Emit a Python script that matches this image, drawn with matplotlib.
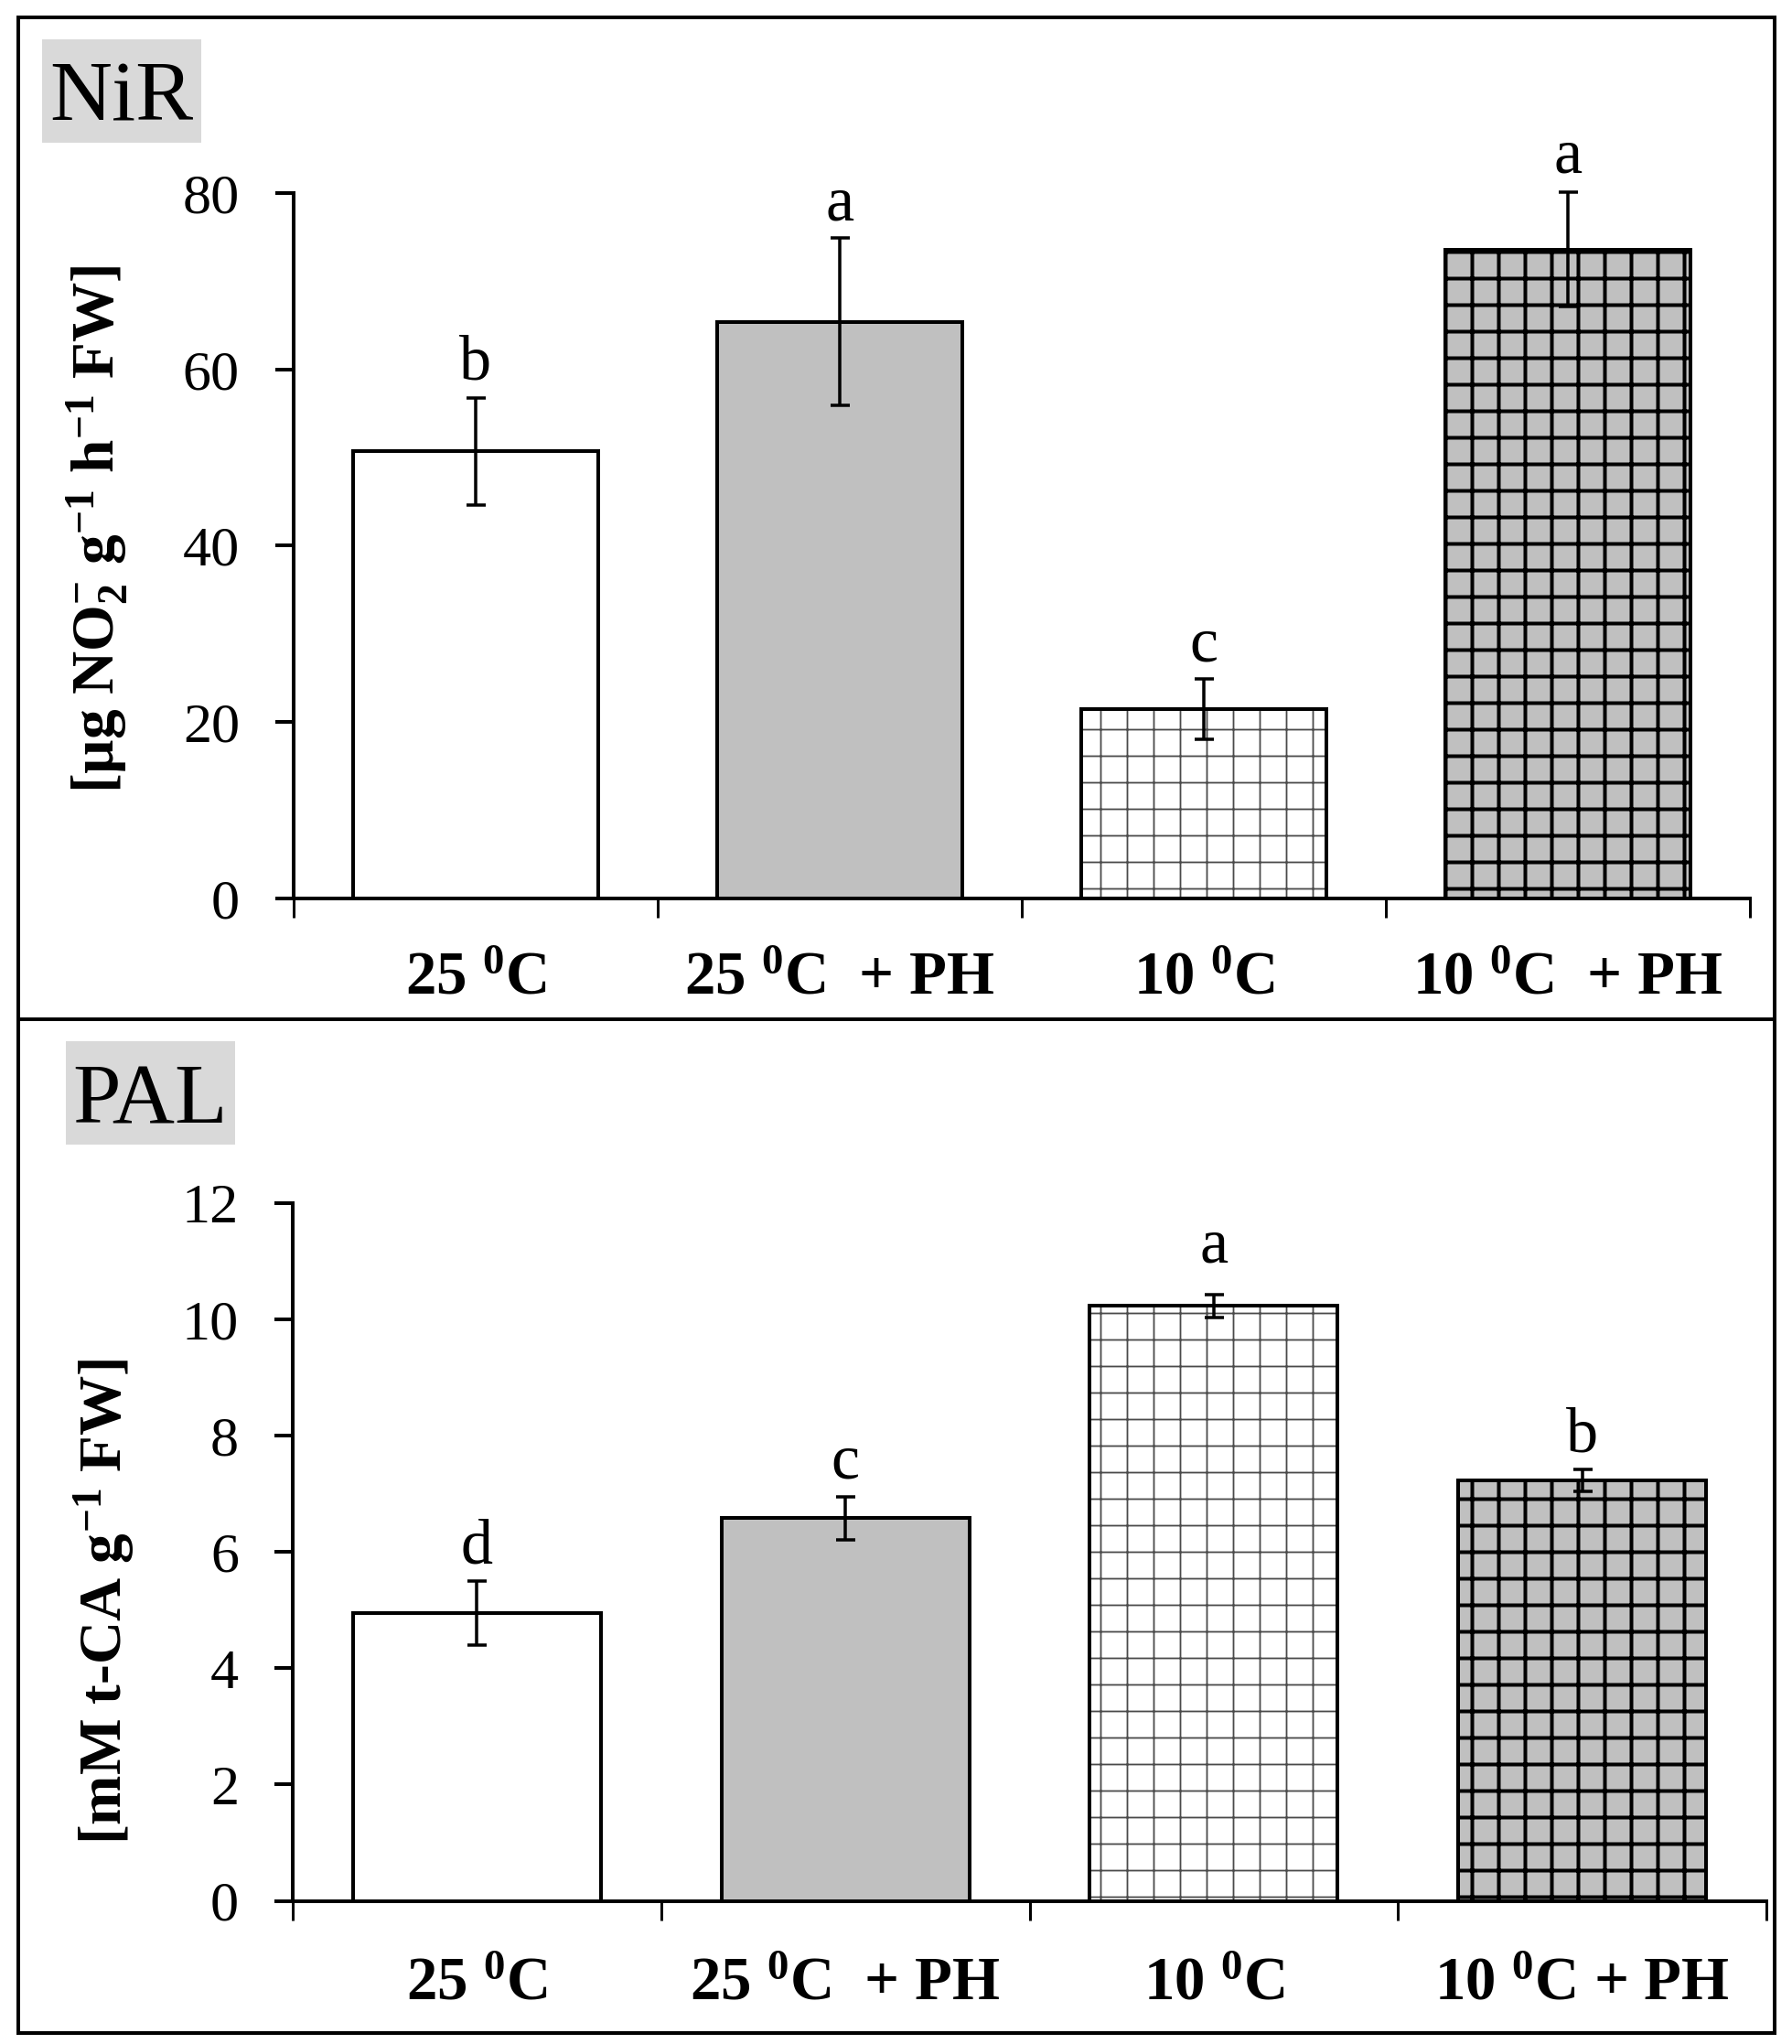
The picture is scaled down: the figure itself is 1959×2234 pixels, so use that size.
import matplotlib
matplotlib.use('Agg')
import matplotlib.pyplot as plt
import numpy as np
from matplotlib.patches import Rectangle

plt.rcParams['font.family'] = ['Liberation Serif', 'DejaVu Serif']
plt.rcParams['mathtext.fontset'] = 'custom'
plt.rcParams['mathtext.rm'] = 'Liberation Serif'
plt.rcParams['mathtext.bf'] = 'Liberation Serif:bold'
plt.rcParams['mathtext.it'] = 'Liberation Serif:italic'

# ---------------- data ----------------
labels_top = ['25 $^{\\mathbf{0}}$C', '25 $^{\\mathbf{0}}$C  + PH',
              '10 $^{\\mathbf{0}}$C', '10 $^{\\mathbf{0}}$C  + PH']
labels_bottom = ['25 $^{\\mathbf{0}}$C', '25 $^{\\mathbf{0}}$C  + PH',
                 '10 $^{\\mathbf{0}}$C', '10 $^{\\mathbf{0}}$C + PH']
nir_values = [50.7, 65.4, 21.5, 73.6]
nir_errors = [6.1, 9.5, 3.4, 6.5]
nir_letters = ['b', 'a', 'c', 'a']
pal_values = [4.95, 6.58, 10.23, 7.23]
pal_errors = [0.55, 0.37, 0.19, 0.19]
pal_letters = ['d', 'c', 'a', 'b']
nir_ticks = [0, 20, 40, 60, 80]
pal_ticks = [0, 2, 4, 6, 8, 10, 12]

# ---------------- layout / style ----------------
DPI = 174
W, H = 1959, 2234
P = 72.0 / DPI  # pixels -> points

nir_letter_gap_px = [20, 20, 20, 22]
pal_letter_gap_px = [20, 20, 36, 20]

fig = plt.figure(figsize=(W / DPI, H / DPI), dpi=DPI)
fig.patch.set_facecolor('white')


def fx(px):
    return px / W


def fy(py):
    return 1 - py / H


def axes_px(left, right, top, bottom):
    return fig.add_axes([fx(left), fy(bottom), (right - left) / W, (bottom - top) / H])


face = ['white', '#c0c0c0', 'white', '#c0c0c0']
hatches = [None, None, '+', '+']
hatch_cols = [None, None, '#4a4a4a', 'black']
hatch_lws = [None, None, 1.8 * P, 4.0 * P]


def draw_panel(ax, values, errors, letters, gaps, labels, ymax, yticks, width, label_pad):
    x = np.arange(len(values)) + 0.5
    for i in range(len(values)):
        if hatches[i] is not None:
            plt.rcParams['hatch.linewidth'] = hatch_lws[i]
            b = ax.bar(x[i], values[i], width, color=face[i], edgecolor=hatch_cols[i],
                       linewidth=0, hatch=hatches[i], zorder=2)
            for p in b:
                try:
                    p.set_hatch_linewidth(hatch_lws[i])
                except Exception:
                    pass
        else:
            ax.bar(x[i], values[i], width, color=face[i], linewidth=0, zorder=2)
    ax.bar(x, values, width, fill=False, edgecolor='black', linewidth=4 * P, zorder=3)
    eb = ax.errorbar(x, values, yerr=errors, fmt='none', ecolor='black',
                     elinewidth=3.5 * P, capsize=10.5 * P, capthick=3.5 * P, zorder=4)
    for art in eb.get_children():
        art.set_clip_on(False)
    for xi, v, e, l, g in zip(x, values, errors, letters, gaps):
        ax.annotate(l, (xi, v + e), xytext=(0, g * P), textcoords='offset points',
                    ha='center', va='baseline', fontsize=29, annotation_clip=False)

    ax.set_xlim(0, len(values))
    ax.set_ylim(0, ymax)
    ax.set_yticks(yticks)
    ax.set_xticks(np.arange(len(values) + 1))
    ax.set_xticklabels([])
    ax.set_xticks(x, minor=True)
    ax.set_xticklabels(labels, minor=True, fontweight='bold', fontsize=27.7)
    ax.tick_params(axis='x', which='major', direction='out', length=21 * P, width=3 * P)
    ax.tick_params(axis='x', which='minor', length=0, pad=label_pad * P)
    ax.tick_params(axis='y', direction='out', length=20 * P, width=4 * P,
                   labelsize=25.7, pad=39 * P)
    for s in ['top', 'right']:
        ax.spines[s].set_visible(False)
    for s in ['left', 'bottom']:
        ax.spines[s].set_linewidth(4 * P)
    ax.set_facecolor('none')


ax1 = axes_px(321, 1913, 211, 982)
draw_panel(ax1, nir_values, nir_errors, nir_letters, nir_letter_gap_px, labels_top,
           80, nir_ticks, 0.671, 58)
ax2 = axes_px(320, 1931, 1315, 2077.5)
draw_panel(ax2, pal_values, pal_errors, pal_letters, pal_letter_gap_px, labels_bottom,
           12, pal_ticks, 0.673, 61)

# y labels
fig.text(fx(106), fy(578),
         '[µg NO$_{\\mathbf{2}}^{\\mathbf{-}}$ g$^{\\mathbf{-1}}$ h$^{\\mathbf{-1}}$ FW]',
         rotation=90, ha='center', va='center', fontsize=27, fontweight='bold')
fig.text(fx(114), fy(1750),
         '[mM t-CA g$^{\\mathbf{-1}}$ FW]',
         rotation=90, ha='center', va='center', fontsize=27, fontweight='bold')

# panel frames
for (x0, y0, x1, y1) in [(20, 19, 1940, 1114), (20, 1114, 1940, 2222)]:
    fig.patches.append(Rectangle((fx(x0), fy(y1)), (x1 - x0) / W, (y1 - y0) / H,
                                 transform=fig.transFigure, fill=False,
                                 edgecolor='black', linewidth=4 * P, zorder=10))

# panel titles in gray boxes
for (name, x0, x1, y0, y1, base) in [('NiR', 46, 220, 43, 156, 132),
                                      ('PAL', 72, 257, 1138, 1251, 1228)]:
    fig.patches.append(Rectangle((fx(x0), fy(y1)), (x1 - x0) / W, (y1 - y0) / H,
                                 transform=fig.transFigure, facecolor='#d9d9d9',
                                 edgecolor='none', zorder=1))
    fig.text(fx((x0 + x1) / 2), fy(base), name, ha='center', va='baseline',
             fontsize=39, zorder=2)

fig.savefig('out.png', dpi=DPI, facecolor='white')
